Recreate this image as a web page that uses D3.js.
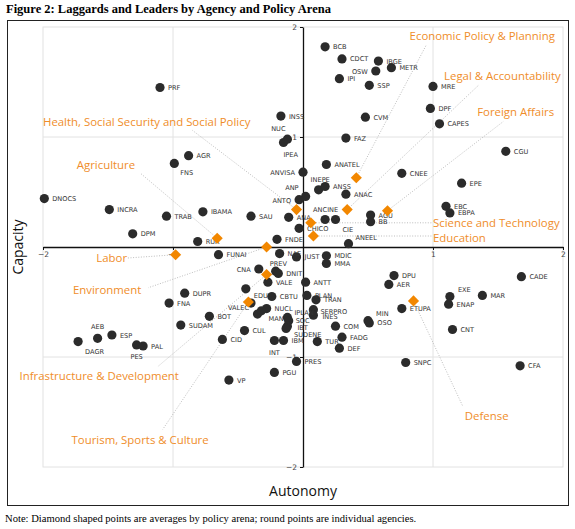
<!DOCTYPE html>
<html lang="en">
<meta charset="utf-8">
<style>
  body{ margin:0; background:#fff; }
  .title{ font-family:"Liberation Serif",serif; font-weight:bold; font-size:12.5px; }
  .note{ font-family:"Liberation Serif",serif; font-size:10.6px; }
  .axtitle{ font-family:"Open Sans",sans-serif; font-size:14px; fill:#111; }
  .agency{ font-family:"DejaVu Sans",sans-serif; font-size:6.6px; fill:#333; }
  .arena{ font-family:"Open Sans",sans-serif; font-size:11.4px; fill:#ef8d2a; }
  .tick text{ font-family:"DejaVu Sans",sans-serif; font-size:7.5px; fill:#444; }
</style>
<body>
<svg width="575" height="529"></svg>
<script src="https://d3js.org/d3.v7.min.js"></script>
<script>
// agencies: autonomy (x) and capacity (y)
const agencyNames = ['BCB','CDCT','IBGE','METR','OSW','IPI','SSP','PRF','MRE','DPF','CAPES','INSS','CVM','NUC','IPEA','FAZ',
  'CGU','AGR','ANATEL','FNS','ANVISA','CNEE','EPE','INEPE','ANSS','ANAC','ANP','ANTQ','DNOCS','EBC','IBAMA','INCRA','EBPA',
  'TRAB','SAU','AGU','ANA','ANCINE','CIE','BB','CHICO','DPM','FNDE','RUR','ANEEL','FUNAI','NAE','JUST','MDIC','MMA',
  'CNA','PREV','DNIT','DPU','CADE','VALE','ANTT','AER','DUPR','EDU','CBTU','PLAN','MAR','EXE','TRAN','FNA','ENAP','ETUPA',
  'NUCL','MAN','','BOT','IPLAN','SOC','IBT','SUDENE','SERPRO','INES','MIN','OSO','COM','CNT','CUL','SUDAM','AEB','ESP',
  'DAGR','FADG','CID','INT','IBM','TUR','PES','PAL','DEF','PRES','SNPC','CFA','PGU','VP','VALEC']
const autonomy = [0.17,0.30,0.58,0.68,0.56,0.28,0.51,-1.10,1.00,0.98,1.05,-0.17,0.48,-0.15,-0.12,0.33,
  1.56,-0.88,0.18,-0.99,0.00,0.76,1.22,0.12,0.17,0.33,0.02,-0.03,-1.99,1.10,-0.77,-1.49,1.13,
  -1.05,-0.40,0.52,-0.11,0.17,0.25,0.52,-0.03,-1.31,-0.20,-0.81,0.35,-0.65,-0.18,-0.05,0.18,0.18,
  -0.34,-0.21,-0.19,0.70,1.68,-0.27,0.02,0.66,-0.91,-0.44,-0.24,0.03,1.38,1.13,0.10,-1.03,1.12,0.76,
  -0.28,-0.35,-0.32,-0.72,-0.12,-0.11,-0.12,-0.13,0.08,0.08,0.50,0.51,0.25,1.15,-0.45,-0.94,-1.58,-1.47,
  -1.73,0.30,-0.62,-0.22,-0.15,0.11,-1.28,-1.23,0.28,-0.05,0.79,1.67,-0.22,-0.57,-0.40]
const capacity = [1.82,1.71,1.69,1.63,1.60,1.53,1.47,1.45,1.46,1.26,1.12,1.19,1.18,0.95,0.98,0.99,
  0.87,0.83,0.75,0.76,0.68,0.67,0.58,0.52,0.55,0.48,0.46,0.43,0.44,0.37,0.32,0.34,0.31,
  0.28,0.28,0.29,0.27,0.25,0.25,0.23,0.17,0.12,0.07,0.05,0.03,-0.07,-0.06,-0.09,-0.08,-0.15,
  -0.20,-0.22,-0.24,-0.26,-0.27,-0.32,-0.32,-0.34,-0.42,-0.38,-0.45,-0.44,-0.44,-0.45,-0.48,-0.51,-0.52,-0.56,
  -0.56,-0.61,-0.58,-0.63,-0.64,-0.67,-0.72,-0.74,-0.57,-0.62,-0.67,-0.69,-0.72,-0.75,-0.76,-0.71,-0.83,-0.80,
  -0.86,-0.82,-0.84,-0.85,-0.85,-0.86,-0.89,-0.90,-0.92,-1.04,-1.05,-1.08,-1.14,-1.21,-0.51]

// policy arena averages (diamonds)
const arenaNames = ['Economic Policy & Planning','Legal & Accountability','Foreign Affairs',
  'Health, Social Security and Social Policy','Agriculture','Labor','Environment',
  'Science and Technology','Education','Infrastructure & Development','Tourism, Sports & Culture','Defense']
const arenaAutonomy = [0.41,0.34,0.65,-0.05,-0.66,-0.98,-0.28,0.06,0.08,-0.28,-0.42,0.85]
const arenaCapacity = [0.63,0.34,0.33,0.34,0.08,-0.07,0.00,0.22,0.10,-0.25,-0.50,-0.49]

const tickValues = [-2,-1,1,2]

// layout for the arena call-outs: text anchor and leader line end, in data units
const arenaText = [[0.82,1.88],[1.085,1.52],[1.34,1.19],[-2.0,1.10],[-1.74,0.71],[-1.59,-0.14],[-1.77,-0.43],
  [1.0,0.18],[1.0,0.045],[-2.18,-1.21],[-1.78,-1.79],[1.245,-1.57]]
const arenaLineEnd = [[0.95,1.84],[1.35,1.47],[1.54,1.14],[-0.85,1.06],[-1.25,0.67],[-1.35,-0.10],[-1.19,-0.37],
  [1.0,0.22],[1.0,0.10],[-1.12,-1.09],[-1.08,-1.66],[1.23,-1.45]]

// label offsets for agency names (px) where not default right-side
const labelPos = {
  OSW:[-8,3,'end'], NUC:[2,-12,'end'], IPEA:[-4,18,'start'], FNS:[6,12,'start'], ANVISA:[-8,3,'end'],
  INEPE:[-8,-8,'start'], ANP:[-7,-6,'end'], ANTQ:[-8,3,'end'], ANCINE:[-12,-8,'start'], CIE:[7,12,'start'],
  ANEEL:[7,-4,'start'], CNA:[-8,3,'end'], PREV:[-6,-5,'start'], EDU:[8,9,'start'], EXE:[8,-5,'start'],
  MIN:[8,-5,'start'], MAN:[11,7,'start'], IPLAN:[7,-2,'start'], SOC:[7,2,'start'], IBT:[10,4,'start'],
  SUDENE:[8,9,'start'], SERPRO:[7,4,'start'], INES:[9,4,'start'], INT:[0,14,'middle'], AEB:[0,-9,'middle'],
  DAGR:[7,12,'start'], PES:[0,14,'middle'], VALEC:[-2,7,'end']
}

const svg = d3.select('svg')
const x = d3.scaleLinear().domain([-2,2]).range([43,563])
const y = d3.scaleLinear().domain([-2,2]).range([467,27])

svg.append('text').attr('class','title').attr('x',6).attr('y',13)
  .text('Figure 2: Laggards and Leaders by Agency and Policy Arena')
svg.append('rect').attr('x',7.5).attr('y',20.5).attr('width',561).attr('height',485)
  .attr('fill','none').attr('stroke','#222')
svg.append('text').attr('class','note').attr('x',5).attr('y',522)
  .text('Note: Diamond shaped points are averages by policy arena; round points are individual agencies.')

// grid
let grid = svg.append('g').attr('stroke','#e2e2e2').attr('fill','none')
grid.append('rect').attr('x',x(-2)).attr('y',y(2)).attr('width',x(2)-x(-2)).attr('height',y(-2)-y(2))
grid.selectAll('line.v').data([-1,1]).enter().append('line')
  .attr('x1',d => x(d)).attr('x2',d => x(d)).attr('y1',y(2)).attr('y2',y(-2))
grid.selectAll('line.h').data([-1,1]).enter().append('line')
  .attr('y1',d => y(d)).attr('y2',d => y(d)).attr('x1',x(-2)).attr('x2',x(2))

// axes through the origin
let xAxis = svg.append('g').attr('transform',`translate(0,${y(0)})`)
  .call(d3.axisBottom(x).tickValues(tickValues).tickSize(3).tickSizeOuter(0).tickFormat(d => d < 0 ? '\u2212' + (-d) : d))
let yAxis = svg.append('g').attr('transform',`translate(${x(0)},0)`)
  .call(d3.axisLeft(y).tickValues(tickValues).tickSize(3).tickSizeOuter(0).tickFormat(d => d < 0 ? '\u2212' + (-d) : d))
svg.selectAll('.domain').attr('stroke','#111').attr('stroke-width',1.3)
svg.selectAll('.tick line').attr('stroke','#111')
xAxis.selectAll('.tick text').attr('dy','0.55em')

svg.append('text').attr('class','axtitle').attr('text-anchor','middle')
  .attr('x',x(0)).attr('y',496).text('Autonomy')
svg.append('text').attr('class','axtitle').attr('text-anchor','middle')
  .attr('transform',`translate(23,${y(0)}) rotate(-90)`).text('Capacity')

// leader lines
svg.append('g').selectAll('line').data(arenaNames).enter().append('line')
  .attr('x1',(d,i) => x(arenaAutonomy[i])).attr('y1',(d,i) => y(arenaCapacity[i]))
  .attr('x2',(d,i) => x(arenaLineEnd[i][0])).attr('y2',(d,i) => y(arenaLineEnd[i][1]))
  .attr('stroke','#b5b5b5').attr('stroke-width',0.9).attr('stroke-dasharray','1,1.6')

// agencies
let agencies = agencyNames.map((n,i) => ({name:n, a:autonomy[i], c:capacity[i]}))
svg.append('g').selectAll('circle').data(agencies).enter().append('circle')
  .attr('cx',d => x(d.a)).attr('cy',d => y(d.c)).attr('r',4.6).attr('fill','#2b2b2b')
svg.append('g').selectAll('text').data(agencies).enter().append('text')
  .attr('class','agency')
  .attr('x',d => x(d.a) + (labelPos[d.name] ? labelPos[d.name][0] : 8))
  .attr('y',d => y(d.c) + (labelPos[d.name] ? labelPos[d.name][1] : 2.5))
  .attr('text-anchor',d => labelPos[d.name] ? labelPos[d.name][2] : 'start')
  .text(d => d.name)

// arena diamonds
svg.append('g').selectAll('path').data(arenaNames).enter().append('path')
  .attr('d', d3.symbol().type(d3.symbolSquare).size(62))
  .attr('transform',(d,i) => `translate(${x(arenaAutonomy[i])},${y(arenaCapacity[i])}) rotate(45)`)
  .attr('fill','#f28700')

svg.append('g').selectAll('text').data(arenaNames).enter().append('text')
  .attr('class','arena')
  .attr('x',(d,i) => x(arenaText[i][0])).attr('y',(d,i) => y(arenaText[i][1]))
  .text(d => d)
</script>
</body>
</html>
